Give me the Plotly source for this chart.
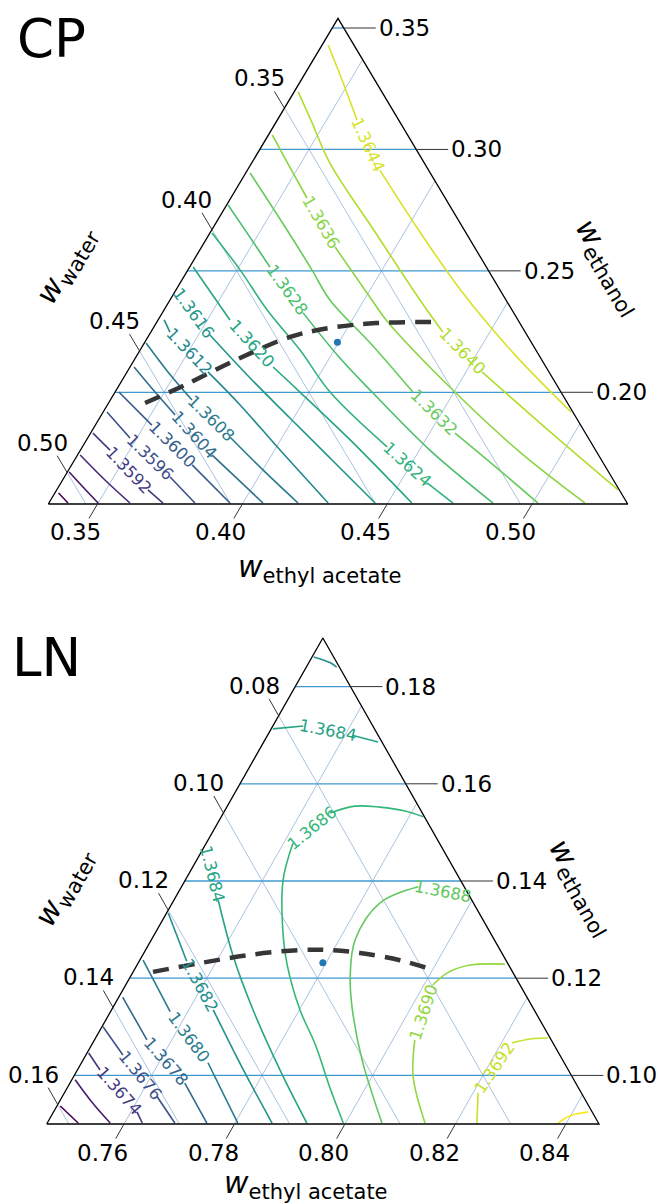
import math
import plotly.graph_objects as go
from plotly.colors import sample_colorscale

# ===================== DATA =====================
# Points are (w_ethyl_acetate, w_ethanol); w_water = 1 - both.

# ---------- CP ----------
CP_EA_TICKS = [0.35, 0.40, 0.45, 0.50]
CP_WATER_TICKS = [0.35, 0.40, 0.45, 0.50]
CP_ETHANOL_TICKS = [0.20, 0.25, 0.30, 0.35]
CP_ETHANOL_MIN = 0.154
CP_EA_MIN = 0.333
CP_SPAN = 0.200
CP_LEVEL_RANGE = [1.3580, 1.3648]

cp_1_3644 = [(0.3351, 0.3430), (0.3471, 0.3286), (0.3605, 0.3121), (0.3787, 0.2915),
             (0.4053, 0.2660), (0.4322, 0.2413), (0.4634, 0.2154), (0.4945, 0.1919)]
cp_1_3640 = [(0.3344, 0.3237), (0.3446, 0.3121), (0.3600, 0.2944), (0.3898, 0.2660),
             (0.4193, 0.2380), (0.4338, 0.2248), (0.4555, 0.2084), (0.4914, 0.1837),
             (0.5268, 0.1598)]
cp_1_3636 = [(0.3343, 0.3060), (0.3473, 0.2924), (0.3593, 0.2800), (0.3791, 0.2598),
             (0.4027, 0.2380), (0.4117, 0.2298), (0.4503, 0.2001), (0.4851, 0.1754),
             (0.5181, 0.1544)]
cp_1_3632 = [(0.3345, 0.2903), (0.3556, 0.2701), (0.3758, 0.2504), (0.3882, 0.2380),
             (0.4120, 0.2195), (0.4358, 0.2001), (0.4588, 0.1832), (0.4805, 0.1688),
             (0.5018, 0.1544)]
cp_1_3628 = [(0.3335, 0.2771), (0.3471, 0.2644), (0.3607, 0.2516), (0.3816, 0.2327),
             (0.4036, 0.2141), (0.4217, 0.2001), (0.4536, 0.1762), (0.4863, 0.1544)]
cp_1_3624 = [(0.3337, 0.2656), (0.3510, 0.2504), (0.3686, 0.2339), (0.3882, 0.2174),
             (0.4072, 0.2001), (0.4382, 0.1775), (0.4594, 0.1627), (0.4725, 0.1544)]
cp_1_3620 = [(0.3342, 0.2516), (0.3578, 0.2298), (0.3824, 0.2104), (0.3968, 0.2001),
             (0.4240, 0.1804), (0.4583, 0.1544)]
cp_1_3616 = [(0.3339, 0.2417), (0.3540, 0.2236), (0.3767, 0.2059), (0.3987, 0.1894),
             (0.4219, 0.1721), (0.4456, 0.1544)]
cp_1_3612 = [(0.3351, 0.2298), (0.3396, 0.2248), (0.3609, 0.2084), (0.3788, 0.1948),
             (0.4019, 0.1762), (0.4294, 0.1544)]
cp_1_3608 = [(0.3336, 0.2203), (0.3471, 0.2084), (0.3612, 0.1968), (0.3819, 0.1816),
             (0.4012, 0.1672), (0.4190, 0.1544)]
cp_1_3604 = [(0.3344, 0.2104), (0.3468, 0.2001), (0.3584, 0.1907), (0.3794, 0.1742),
             (0.4069, 0.1544)]
cp_1_3600 = [(0.3343, 0.2001), (0.3525, 0.1865), (0.3746, 0.1701), (0.3955, 0.1544)]
cp_1_3596 = [(0.3343, 0.1919), (0.3476, 0.1812), (0.3695, 0.1651), (0.3834, 0.1544)]
cp_1_3592 = [(0.3338, 0.1832), (0.3432, 0.1762), (0.3645, 0.1598), (0.3724, 0.1544)]
cp_1_3588 = [(0.3339, 0.1742), (0.3476, 0.1639), (0.3610, 0.1544)]
cp_1_3584 = [(0.3336, 0.1672), (0.3420, 0.1606), (0.3500, 0.1544)]
cp_1_3580 = [(0.3343, 0.1585), (0.3396, 0.1544)]

# (level, points, index of the segment that carries the inline label or None)
CP_CONTOURS = [
    (1.3644, cp_1_3644, 2), (1.3640, cp_1_3640, 5), (1.3636, cp_1_3636, 2),
    (1.3632, cp_1_3632, 5), (1.3628, cp_1_3628, 2), (1.3624, cp_1_3624, 5),
    (1.3620, cp_1_3620, 1), (1.3616, cp_1_3616, 0), (1.3612, cp_1_3612, 1),
    (1.3608, cp_1_3608, 2), (1.3604, cp_1_3604, 2), (1.3600, cp_1_3600, 1),
    (1.3596, cp_1_3596, 1), (1.3592, cp_1_3592, 1), (1.3588, cp_1_3588, None),
    (1.3584, cp_1_3584, None), (1.3580, cp_1_3580, None),
]
CP_DASHED = [(0.3456, 0.1956), (0.3557, 0.2030), (0.3681, 0.2133), (0.3821, 0.2228),
             (0.3940, 0.2265), (0.4089, 0.2285), (0.4297, 0.2289)]
CP_POINT = (0.3995, 0.2206)

# ---------- LN ----------
LN_EA_TICKS = [0.76, 0.78, 0.80, 0.82, 0.84]
LN_WATER_TICKS = [0.08, 0.10, 0.12, 0.14, 0.16]
LN_ETHANOL_TICKS = [0.10, 0.12, 0.14, 0.16, 0.18]
LN_ETHANOL_MIN = 0.090
LN_EA_MIN = 0.746
LN_SPAN = 0.100
LN_LEVEL_RANGE = [1.3670, 1.3694]

ln_1_3694 = [(0.8385, 0.0902), (0.8399, 0.0917), (0.8428, 0.0925)]
ln_1_3692 = [(0.8238, 0.0902), (0.8209, 0.0964), (0.8219, 0.1067), (0.8248, 0.1075),
             (0.8279, 0.1077)]
ln_1_3690 = [(0.8125, 0.1229), (0.8063, 0.1227), (0.8030, 0.1211), (0.8016, 0.1186),
             (0.8040, 0.1073), (0.8075, 0.0997), (0.8144, 0.0902)]
ln_1_3688 = [(0.7986, 0.1369), (0.7889, 0.1388), (0.7836, 0.1355), (0.7829, 0.1279),
             (0.7858, 0.1203), (0.7896, 0.1135), (0.7965, 0.1032), (0.8066, 0.0902)]
ln_1_3686 = [(0.7996, 0.0902), (0.7936, 0.0974), (0.7865, 0.1063), (0.7801, 0.1135),
             (0.7732, 0.1227), (0.7688, 0.1299), (0.7637, 0.1402), (0.7617, 0.1478),
             (0.7653, 0.1540), (0.7691, 0.1554), (0.7737, 0.1552), (0.7787, 0.1544),
             (0.7826, 0.1532)]
ln_1_3684_top = [(0.7463, 0.1713), (0.7515, 0.1719), (0.7613, 0.1700), (0.7667, 0.1686)]
ln_1_3684_left = [(0.7463, 0.1468), (0.7540, 0.1361), (0.7626, 0.1244), (0.7716, 0.1135),
                  (0.7827, 0.1011), (0.7930, 0.0902)]
ln_1_3682_top = [(0.7463, 0.1861), (0.7499, 0.1849), (0.7515, 0.1840)]
ln_1_3682_left = [(0.7463, 0.1334), (0.7546, 0.1235), (0.7644, 0.1135), (0.7755, 0.1017),
                  (0.7867, 0.0902)]
ln_1_3680 = [(0.7466, 0.1237), (0.7568, 0.1131), (0.7689, 0.1026), (0.7805, 0.0902)]
ln_1_3678 = [(0.7467, 0.1161), (0.7555, 0.1073), (0.7668, 0.0984), (0.7749, 0.0902)]
ln_1_3676 = [(0.7462, 0.1100), (0.7527, 0.1042), (0.7632, 0.0956), (0.7691, 0.0902)]
ln_1_3674 = [(0.7463, 0.1046), (0.7501, 0.1011), (0.7611, 0.0925), (0.7632, 0.0902)]
ln_1_3672 = [(0.7466, 0.0991), (0.7517, 0.0947), (0.7574, 0.0902)]
ln_1_3670 = [(0.7466, 0.0937), (0.7516, 0.0902)]

LN_CONTOURS = [
    (1.3694, ln_1_3694, None), (1.3692, ln_1_3692, 1), (1.3690, ln_1_3690, 3),
    (1.3688, ln_1_3688, 0), (1.3686, ln_1_3686, 7), (1.3684, ln_1_3684_top, 1),
    (1.3684, ln_1_3684_left, 0), (1.3682, ln_1_3682_top, None), (1.3682, ln_1_3682_left, 1),
    (1.3680, ln_1_3680, 1), (1.3678, ln_1_3678, 1), (1.3676, ln_1_3676, 1),
    (1.3674, ln_1_3674, 1), (1.3672, ln_1_3672, None), (1.3670, ln_1_3670, None),
]
LN_DASHED = [(0.7496, 0.1213), (0.7572, 0.1231), (0.7654, 0.1248), (0.7740, 0.1258),
             (0.7794, 0.1258), (0.7851, 0.1252), (0.7931, 0.1237), (0.8001, 0.1217)]
LN_POINT = (0.7794, 0.1232)

# ===================== LAYOUT / STYLE =====================
FIG_W, FIG_H = 658, 1204
FONT = "DejaVu Sans"
TICK_FONT_SIZE = 23
CLABEL_FONT_SIZE = 16.5
TITLE_FONT_SIZE = 30
PANEL_FONT_SIZE = 53
ETH_GRID_COLOR = "#3f98d0"
LIGHT_GRID_COLOR = "#aac3e0"
TICK_COLOR = "#333333"

# pixel placement of each triangle (bottom-left corner, width, height) and its subplot band
PANELS = {
    "CP": dict(xaxis="x", yaxis="y", x0=48.3, w=579.4, y0=504.0, h=485.7, top=0, bottom=602,
               label_xy=(15, 39), water_title=(67, 266), eth_title=(609, 267), ea_title=(320, 568)),
    "LN": dict(xaxis="x2", yaxis="y2", x0=46.7, w=552.3, y0=1124.0, h=486.0, top=602, bottom=1204,
               label_xy=(10, 657), water_title=(65, 888), eth_title=(581, 888), ea_title=(306, 1184)),
}

fig = go.Figure()
annotations = []


def paper(px, py):
    return px / FIG_W, 1 - py / FIG_H


def draw_panel(name, ea_ticks, water_ticks, eth_ticks, tmin, eamin, span,
               level_range, contours, dashed, point):
    lay = PANELS[name]
    wmin = 1 - span - tmin - eamin
    xa, ya = lay["xaxis"], lay["yaxis"]

    def xy(ea, eth):
        u = (eth - tmin) / span
        v = (ea - eamin) / span
        return v + u / 2, u

    def shift(p, dxp, dyp):  # dyp: screen pixels, downward positive
        return p[0] + dxp / lay["w"], p[1] - dyp / lay["h"]

    def add_line(pts, color, width, dash=None, shape="linear"):
        xs = [None if p is None else p[0] for p in pts]
        ys = [None if p is None else p[1] for p in pts]
        fig.add_trace(go.Scatter(x=xs, y=ys, mode="lines", xaxis=xa, yaxis=ya,
                                 line=dict(color=color, width=width, dash=dash, shape=shape),
                                 connectgaps=False, hoverinfo="skip", showlegend=False))

    # ---- grid lines ----
    for w in water_ticks:
        add_line([xy(eamin, 1 - w - eamin), xy(1 - w - tmin, tmin)], LIGHT_GRID_COLOR, 1)
    for e in ea_ticks:
        add_line([xy(e, tmin), xy(e, 1 - e - wmin)], LIGHT_GRID_COLOR, 1)
    for t in eth_ticks:
        add_line([xy(eamin, t), xy(1 - t - wmin, t)], ETH_GRID_COLOR, 1.3)

    # ---- contour lines with inline labels ----
    lo, hi = level_range
    for level, pts, lab in contours:
        color = sample_colorscale("Viridis", [(level - lo) / (hi - lo)])[0]
        P = [xy(*p) for p in pts]
        seq = []
        for i, p in enumerate(P):
            seq.append(p)
            if lab is not None and i == lab:
                seq.append(None)
        add_line(seq, color, 1.6, shape="spline")
        if lab is not None:
            a, b = P[lab], P[lab + 1]
            dx = (b[0] - a[0]) * lay["w"]
            dy = -(b[1] - a[1]) * lay["h"]
            ang = math.degrees(math.atan2(dy, dx))
            if ang > 90:
                ang -= 180
            elif ang <= -90:
                ang += 180
            annotations.append(dict(
                x=(a[0] + b[0]) / 2, y=(a[1] + b[1]) / 2, xref=xa, yref=ya,
                text=f"{level:.4f}", showarrow=False, textangle=ang,
                xanchor="center", yanchor="middle",
                font=dict(family=FONT, size=CLABEL_FONT_SIZE, color=color)))

    # ---- dashed curve and point ----
    D = [xy(*p) for p in dashed]
    add_line(D, "#363636", 4.5, dash="16px,10px", shape="spline")
    px_, py_ = xy(*point)
    fig.add_trace(go.Scatter(x=[px_], y=[py_], mode="markers", xaxis=xa, yaxis=ya,
                             marker=dict(color="#1f77b4", size=7), hoverinfo="skip",
                             showlegend=False))

    # ---- triangle outline ----
    add_line([xy(eamin, tmin), xy(eamin + span, tmin), xy(eamin, tmin + span), xy(eamin, tmin)],
             "black", 1.3)

    # ---- ticks and tick labels ----
    W, H = lay["w"], lay["h"]
    n_r = math.hypot(W / 2, H)
    # ethanol (right side): horizontal ticks
    for t in eth_ticks:
        s = xy(1 - t - wmin, t)
        e = shift(s, 32, 0)
        add_line([s, e], TICK_COLOR, 1)
        annotations.append(dict(x=e[0], y=e[1], xref=xa, yref=ya, text=f"{t:.2f}",
                                showarrow=False, xanchor="left", yanchor="middle", xshift=2,
                                borderpad=0,
                                font=dict(family=FONT, size=TICK_FONT_SIZE, color="black")))
    # water (left side): ticks parallel to right side, pointing up-left
    for w in water_ticks:
        s = xy(eamin, 1 - w - eamin)
        L = 19.5
        e = shift(s, -W / 2 / n_r * L, -H / n_r * L)
        add_line([s, e], TICK_COLOR, 1)
        annotations.append(dict(x=e[0], y=e[1], xref=xa, yref=ya, text=f"{w:.2f}",
                                showarrow=False, xanchor="center", yanchor="middle",
                                xshift=-15, yshift=13, borderpad=0,
                                font=dict(family=FONT, size=TICK_FONT_SIZE, color="black")))
    # ethyl acetate (bottom): ticks parallel to left side, pointing down-left
    for ea in ea_ticks:
        s = xy(ea, tmin)
        L = 16.8
        e = shift(s, -W / 2 / n_r * L, H / n_r * L)
        add_line([s, e], TICK_COLOR, 1)
        annotations.append(dict(x=e[0], y=e[1], xref=xa, yref=ya, text=f"{ea:.2f}",
                                showarrow=False, xanchor="center", yanchor="middle",
                                xshift=-13, yshift=-14, borderpad=0,
                                font=dict(family=FONT, size=TICK_FONT_SIZE, color="black")))

    # ---- axis titles and panel label ----
    side_angle = math.degrees(math.atan2(H, W / 2))
    for key, txt, ang in (("water_title", "<i>w</i><sub>water</sub>", -side_angle),
                          ("eth_title", "<i>w</i><sub>ethanol</sub>", side_angle),
                          ("ea_title", "<i>w</i><sub>ethyl acetate</sub>", 0)):
        xp, yp = paper(*lay[key])
        annotations.append(dict(x=xp, y=yp, xref="paper", yref="paper", text=txt,
                                showarrow=False, textangle=ang, xanchor="center",
                                yanchor="middle", borderpad=0,
                                font=dict(family=FONT, size=TITLE_FONT_SIZE, color="black")))
    xp, yp = paper(*lay["label_xy"])
    annotations.append(dict(x=xp, y=yp, xref="paper", yref="paper", text=name,
                            showarrow=False, xanchor="left", yanchor="middle",
                            font=dict(family=FONT, size=PANEL_FONT_SIZE, color="black")))


draw_panel("CP", CP_EA_TICKS, CP_WATER_TICKS, CP_ETHANOL_TICKS, CP_ETHANOL_MIN, CP_EA_MIN,
           CP_SPAN, CP_LEVEL_RANGE, CP_CONTOURS, CP_DASHED, CP_POINT)
draw_panel("LN", LN_EA_TICKS, LN_WATER_TICKS, LN_ETHANOL_TICKS, LN_ETHANOL_MIN, LN_EA_MIN,
           LN_SPAN, LN_LEVEL_RANGE, LN_CONTOURS, LN_DASHED, LN_POINT)

axis_common = dict(visible=False, showgrid=False, zeroline=False, fixedrange=True)
layout_axes = {}
for name, lay in PANELS.items():
    xk = "xaxis" if lay["xaxis"] == "x" else "xaxis" + lay["xaxis"][1:]
    yk = "yaxis" if lay["yaxis"] == "y" else "yaxis" + lay["yaxis"][1:]
    layout_axes[xk] = dict(axis_common, domain=[0, 1],
                           range=[-lay["x0"] / lay["w"], (FIG_W - lay["x0"]) / lay["w"]],
                           anchor=lay["yaxis"])
    layout_axes[yk] = dict(axis_common,
                           domain=[1 - lay["bottom"] / FIG_H, 1 - lay["top"] / FIG_H],
                           range=[(lay["y0"] - lay["bottom"]) / lay["h"],
                                  (lay["y0"] - lay["top"]) / lay["h"]],
                           anchor=lay["xaxis"])

fig.update_layout(width=FIG_W, height=FIG_H, margin=dict(l=0, r=0, t=0, b=0),
                  paper_bgcolor="white", plot_bgcolor="white", showlegend=False,
                  annotations=annotations, **layout_axes)

fig.write_html("out.html")
